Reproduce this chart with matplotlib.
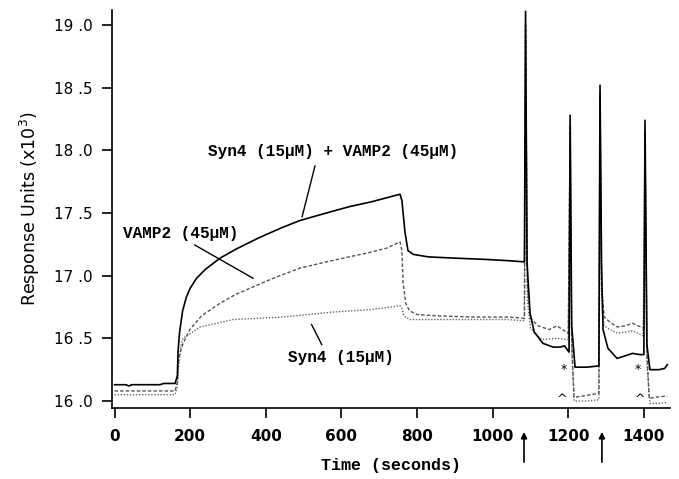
import matplotlib
matplotlib.use("Agg")
import matplotlib.pyplot as plt

# Syn4 (15uM) + VAMP2 (45uM) - solid
t_mix = [0, 30, 38, 46, 120, 130, 160, 166, 168, 172, 180, 190, 200, 217, 240, 279, 320, 380,
         440, 490, 560, 620, 680, 755, 760, 768, 776, 790, 830, 900, 980, 1040, 1084, 1087,
         1091, 1099, 1110, 1133, 1160, 1178, 1190, 1202, 1205, 1209, 1218, 1250, 1281, 1284,
         1288, 1292, 1305, 1329, 1350, 1370, 1390, 1400, 1403, 1408, 1416, 1440, 1455, 1462]
v_mix = [16.13, 16.13, 16.12, 16.13, 16.13, 16.14, 16.14, 16.20, 16.40, 16.55, 16.72, 16.83,
         16.90, 16.98, 17.05, 17.14, 17.21, 17.30, 17.38, 17.44, 17.50, 17.55, 17.59, 17.65,
         17.60, 17.35, 17.20, 17.17, 17.15, 17.14, 17.13, 17.12, 17.11, 19.11, 17.10, 16.70,
         16.55, 16.46, 16.43, 16.43, 16.44, 16.39, 18.28, 16.60, 16.27, 16.27, 16.28, 18.52,
         17.10, 16.57, 16.42, 16.34, 16.36, 16.38, 16.37, 16.37, 18.24, 16.45, 16.25, 16.25,
         16.26, 16.29]

# VAMP2 (45uM) - dashed
t_vamp = [0, 160, 166, 170, 180, 199, 230, 279, 320, 366, 420, 490, 560, 620, 667, 720, 755,
          760, 763, 770, 780, 800, 850, 950, 1040, 1084, 1087, 1092, 1100, 1120, 1150, 1170,
          1200, 1205, 1209, 1215, 1240, 1278, 1281, 1284, 1288, 1295, 1310, 1330, 1350, 1370,
          1385, 1400, 1403, 1408, 1414, 1430, 1462]
v_vamp = [16.08, 16.08, 16.15, 16.35, 16.45, 16.57, 16.68, 16.78, 16.85, 16.91, 16.98, 17.06,
          17.11, 17.15, 17.18, 17.22, 17.27, 17.20, 16.95, 16.78, 16.72, 16.69, 16.68, 16.67,
          16.67, 16.66, 19.00, 16.90, 16.66, 16.60, 16.57, 16.60, 16.54, 18.20, 16.50, 16.03,
          16.04, 16.06, 16.06, 18.45, 16.90, 16.67, 16.63, 16.59, 16.60, 16.62, 16.60, 16.58,
          18.15, 16.40, 16.02, 16.03, 16.04]

# Syn4 (15uM) - dotted
t_syn = [0, 160, 166, 170, 176, 181, 226, 270, 314, 446, 578, 680, 755, 760, 765, 780, 900,
         1040, 1084, 1087, 1092, 1100, 1130, 1170, 1200, 1205, 1209, 1216, 1250, 1281, 1284,
         1288, 1295, 1310, 1330, 1370, 1398, 1403, 1408, 1416, 1440, 1462]
v_syn = [16.05, 16.05, 16.12, 16.30, 16.45, 16.50, 16.59, 16.62, 16.65, 16.67, 16.71, 16.73,
         16.76, 16.74, 16.68, 16.65, 16.65, 16.65, 16.64, 18.90, 16.80, 16.58, 16.49, 16.50,
         16.49, 18.10, 16.40, 16.00, 16.00, 16.01, 18.40, 16.80, 16.60, 16.57, 16.54, 16.56,
         16.52, 18.10, 16.30, 15.98, 15.98, 15.99]

y_ticks = [16.0, 16.5, 17.0, 17.5, 18.0, 18.5, 19.0]
y_ticklabels = ["16 .0", "16 .5", "17 .0", "17 .5", "18 .0", "18 .5", "19 .0"]
x_ticks = [0, 200, 400, 600, 800, 1000, 1200, 1400]
arrow_t = [1083, 1289]
star_t = [1187, 1385]
caret_t = [1183, 1390]

mono = "Liberation Mono"

fig = plt.figure(figsize=(6.79, 4.79), dpi=100)
ax = fig.add_axes([0.1654, 0.1482, 0.8213, 0.8309])

ax.plot(t_syn, v_syn, color="#666666", lw=1.0, ls=(0, (1, 1.2)))
ax.plot(t_vamp, v_vamp, color="#555555", lw=1.0, ls=(0, (2.5, 1.5)))
ax.plot(t_mix, v_mix, color="black", lw=1.2)

ax.set_xlim(-6, 1469)
ax.set_ylim(15.944, 19.12)

for s in ["top", "right"]:
    ax.spines[s].set_visible(False)
ax.spines["left"].set_linewidth(1.2)
ax.spines["bottom"].set_linewidth(1.2)

ax.set_yticks(y_ticks)
ax.set_yticklabels(y_ticklabels, fontsize=11)
ax.set_xticks(x_ticks)
ax.set_xticklabels([str(x) for x in x_ticks], fontsize=11, fontweight="bold")
ax.tick_params(axis="both", direction="out", length=7, width=1.2)
ax.tick_params(axis="y", pad=7)
ax.tick_params(axis="x", pad=8)

ax.set_xlabel("Time (seconds)", fontsize=12, family=mono, fontweight="bold", labelpad=10)
ax.set_ylabel("Response Units (x10$^3$)", fontsize=12.5, labelpad=9)

# labels for the traces
ax.text(578, 17.99, "Syn4 (15μM) + VAMP2 (45μM)", family=mono, fontweight="bold",
        fontsize=11.5, ha="center", va="center")
ax.plot([530, 496], [17.875, 17.47], color="black", lw=1.0)
ax.text(21, 17.34, "VAMP2 (45μM)", family=mono, fontweight="bold", fontsize=11.5,
        ha="left", va="center")
ax.plot([212, 366], [17.245, 16.98], color="black", lw=1.0)
ax.text(459, 16.35, "Syn4 (15μM)", family=mono, fontweight="bold", fontsize=11.5,
        ha="left", va="center")
ax.plot([521, 548], [16.61, 16.45], color="black", lw=1.0)

for t in star_t:
    ax.text(t, 16.25, "*", fontsize=9, ha="center", va="center")
for t in caret_t:
    ax.text(t, 16.01, "^", fontsize=9, ha="center", va="center")

for t in arrow_t:
    ax.annotate("", xy=(t, -0.06), xytext=(t, -0.136),
                xycoords=("data", "axes fraction"), textcoords=("data", "axes fraction"),
                arrowprops=dict(arrowstyle="-|>", color="black", lw=1.2,
                                mutation_scale=9, shrinkA=0, shrinkB=0),
                annotation_clip=False)

fig.savefig("out.png", dpi=100)
